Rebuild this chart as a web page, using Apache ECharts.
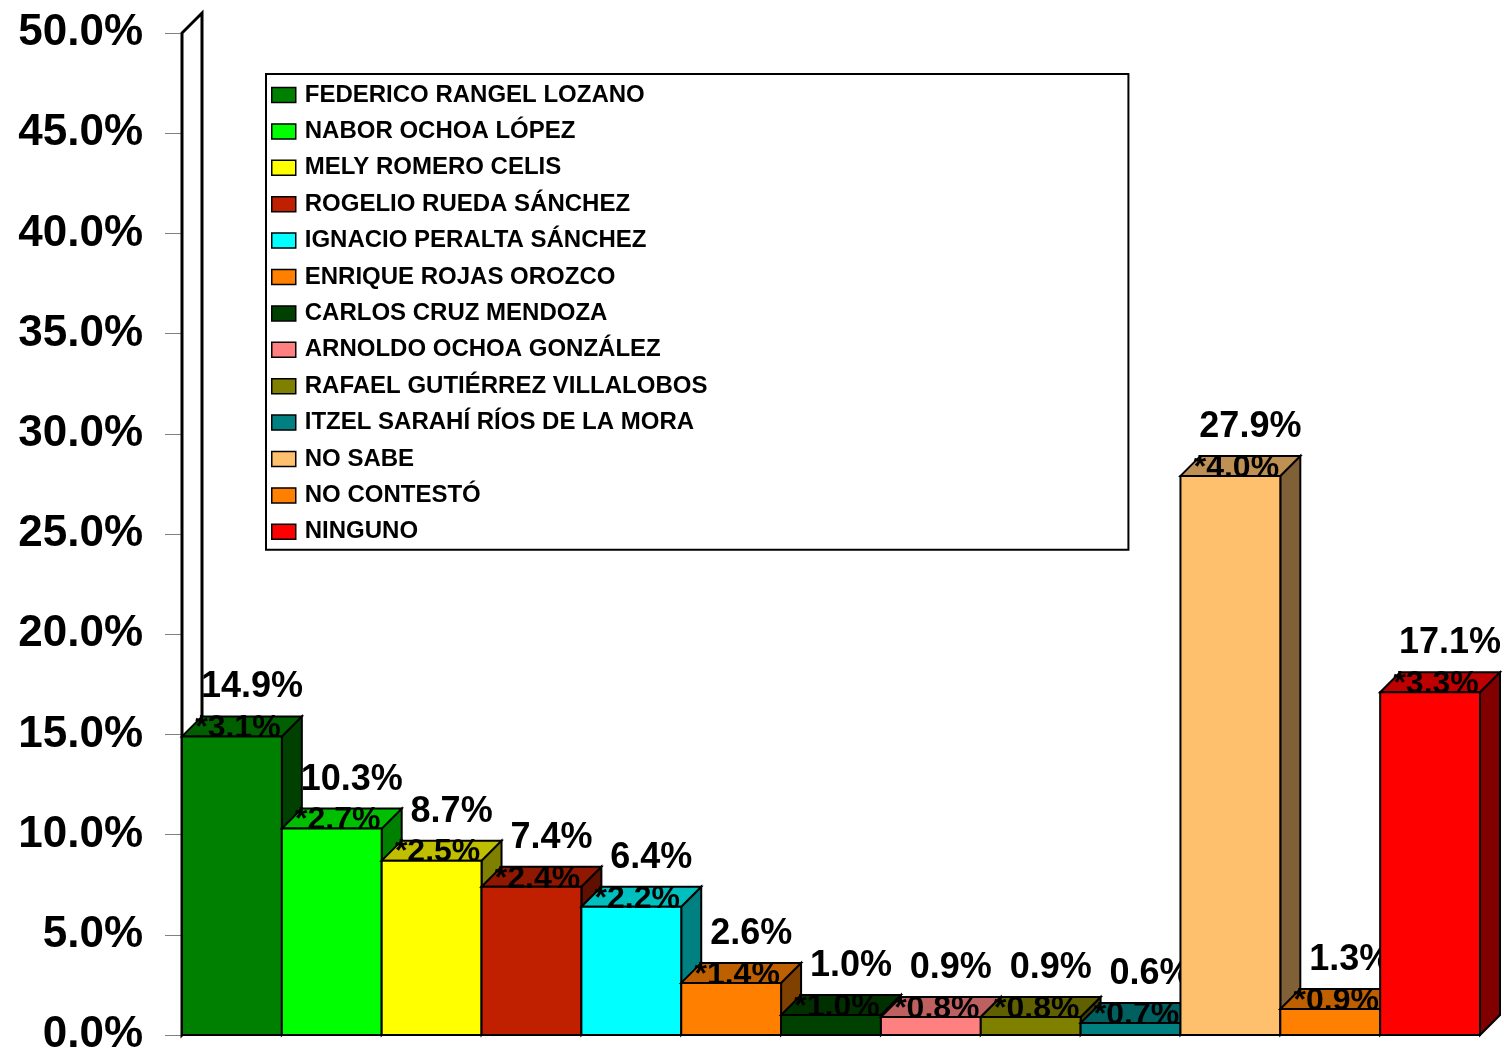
<!DOCTYPE html>
<html>
<head>
<meta charset="utf-8">
<script src="https://cdn.jsdelivr.net/npm/echarts@6/dist/echarts.min.js"></script>
<style>
  html, body { margin: 0; padding: 0; background: #fff; }
  #chart { width: 1504px; height: 1055px; }
</style>
</head>
<body>
<div id="chart"></div>
<script>
// datos de la encuesta
const categories = [
  'FEDERICO RANGEL LOZANO', 'NABOR OCHOA LÓPEZ', 'MELY ROMERO CELIS',
  'ROGELIO RUEDA SÁNCHEZ', 'IGNACIO PERALTA SÁNCHEZ', 'ENRIQUE ROJAS OROZCO',
  'CARLOS CRUZ MENDOZA', 'ARNOLDO OCHOA GONZÁLEZ', 'RAFAEL GUTIÉRREZ VILLALOBOS',
  'ITZEL SARAHÍ RÍOS DE LA MORA', 'NO SABE', 'NO CONTESTÓ', 'NINGUNO'
]
const values = [14.9, 10.3, 8.7, 7.4, 6.4, 2.6, 1.0, 0.9, 0.9, 0.6, 27.9, 1.3, 17.1]
const errors = [3.1, 2.7, 2.5, 2.4, 2.2, 1.4, 1.0, 0.8, 0.8, 0.7, 4.0, 0.9, 3.3]
const yTicks = [0, 5, 10, 15, 20, 25, 30, 35, 40, 45, 50]

const colors = [
  '#008000', '#00ff00', '#ffff00', '#c02000', '#00ffff', '#ff8000',
  '#004000', '#ff8080', '#808000', '#008080', '#ffc06e', '#ff8000', '#ff0000'
]

const FONT = '"Liberation Sans", Arial, sans-serif'
const DEPTH = 20

function shade(hex, f) {
  const n = parseInt(hex.slice(1), 16)
  const r = Math.round(((n >> 16) & 255) * f)
  const g = Math.round(((n >> 8) & 255) * f)
  const b = Math.round((n & 255) * f)
  return 'rgb(' + r + ',' + g + ',' + b + ')'
}

function barRenderer(color, err) {
  return function (params, api) {
    const i = api.value(0)
    const v = api.value(1)
    const top = api.coord([i, v])
    const base = api.coord([i, 0])
    const w = api.size([1, 0])[0]
    const x0 = top[0] - w / 2
    const x1 = top[0] + w / 2
    const yt = top[1]
    const yb = base[1]
    const d = DEPTH
    const stroke = { stroke: '#000', lineWidth: 2, lineJoin: 'miter' }
    return {
      type: 'group',
      children: [
        { type: 'polygon', shape: { points: [[x1, yt], [x1 + d, yt - d], [x1 + d, yb - d], [x1, yb]] },
          style: Object.assign({ fill: shade(color, 0.5) }, stroke) },
        { type: 'polygon', shape: { points: [[x0, yt], [x0 + d, yt - d], [x1 + d, yt - d], [x1, yt]] },
          style: Object.assign({ fill: shade(color, 0.75) }, stroke) },
        { type: 'rect', shape: { x: x0, y: yt, width: w, height: yb - yt },
          style: Object.assign({ fill: color }, stroke) },
        { type: 'text', style: { text: '*' + err.toFixed(1) + '%', x: top[0] + 6, y: yt - 8,
          align: 'center', verticalAlign: 'middle', fill: '#000', font: 'bold 32px ' + FONT } },
        { type: 'text', style: { text: v.toFixed(1) + '%', x: top[0] + 20, y: yt - 49,
          align: 'center', verticalAlign: 'middle', fill: '#000', font: 'bold 36px ' + FONT } }
      ]
    }
  }
}

// pared lateral del eje Y
const wallSeries = {
  type: 'custom',
  name: 'wall',
  silent: true,
  data: [[0, yTicks[yTicks.length - 1]]],
  renderItem: function (params, api) {
    const w = api.size([1, 0])[0]
    const t = api.coord([0, api.value(1)])
    const b = api.coord([0, 0])
    const x = t[0] - w / 2
    return {
      type: 'polygon',
      shape: { points: [[x, b[1]], [x, t[1]], [x + DEPTH, t[1] - DEPTH], [x + DEPTH, b[1] - DEPTH]] },
      style: { fill: '#fff', stroke: '#000', lineWidth: 3 }
    }
  }
}

const barSeries = categories.map(function (name, i) {
  return {
    type: 'custom',
    name: name,
    itemStyle: { color: colors[i] },
    data: [[i, values[i]]],
    encode: { x: 0, y: 1 },
    renderItem: barRenderer(colors[i], errors[i])
  }
})

const chart = echarts.init(document.getElementById('chart'))
chart.setOption({
  animation: false,
  grid: { left: 182, right: 24, top: 33, bottom: 20, outerBoundsMode: 'none' },
  legend: {
    data: categories,
    orient: 'vertical',
    left: 266,
    top: 74,
    selectedMode: false,
    icon: 'rect',
    itemWidth: 24,
    itemHeight: 15,
    itemGap: 12.4,
    padding: [9, 421, 6, 5],
    borderColor: '#000',
    borderWidth: 2,
    itemStyle: { borderColor: '#000', borderWidth: 1.5 },
    textStyle: { fontSize: 24, fontWeight: 'bold', color: '#000', fontFamily: FONT, lineHeight: 24, padding: [0, 0, 0, 4] }
  },
  xAxis: {
    type: 'category',
    data: categories,
    axisLine: { lineStyle: { color: '#808080', width: 1 } },
    axisTick: { length: 5, lineStyle: { color: '#808080' } },
    axisLabel: { show: false },
    splitLine: { show: false }
  },
  yAxis: {
    type: 'value',
    min: yTicks[0],
    max: yTicks[yTicks.length - 1],
    interval: 5,
    axisLine: { show: false },
    axisTick: { show: true, length: 17, lineStyle: { color: '#808080' } },
    splitLine: { show: false },
    axisLabel: {
      margin: 39,
      fontSize: 44,
      fontWeight: 'bold',
      color: '#000',
      fontFamily: FONT,
      formatter: function (v) { return v.toFixed(1) + '%' }
    }
  },
  series: [wallSeries].concat(barSeries)
})
</script>
</body>
</html>
